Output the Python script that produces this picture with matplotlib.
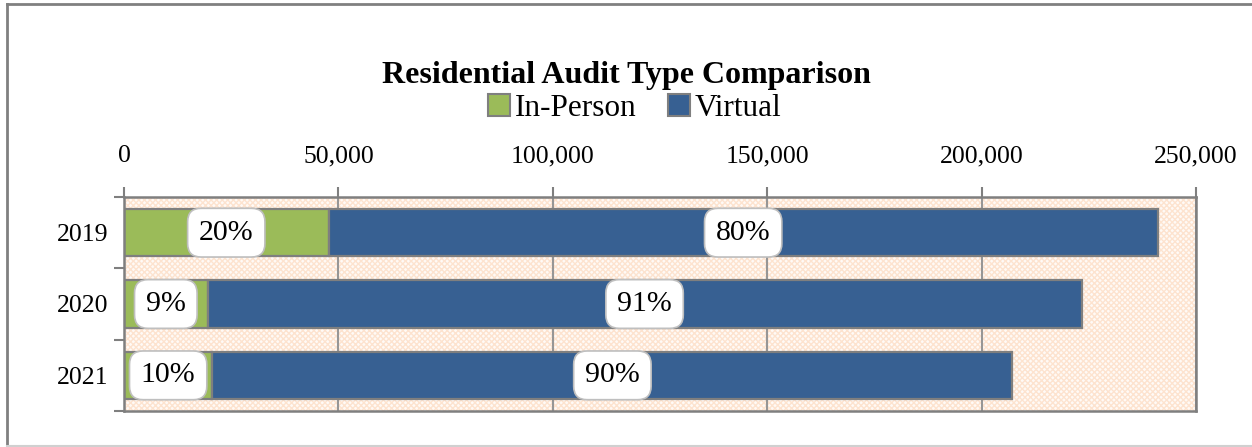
import matplotlib
matplotlib.use("Agg")
import matplotlib.pyplot as plt
from matplotlib.lines import Line2D
from matplotlib.patches import Rectangle
from matplotlib.ticker import FuncFormatter, FixedLocator
import numpy as np

years = ["2019", "2020", "2021"]
in_person = [47700, 19500, 20600]
virtual = [193400, 203800, 186600]
series_names = ["In-Person", "Virtual"]
x_ticks = [0, 50000, 100000, 150000, 200000, 250000]

GREEN = "#9bbb59"
BLUE = "#376092"
EDGE = "#7f7f7f"
GRID = "#969696"
SERIF = ["Liberation Serif", "DejaVu Serif"]

plt.rcParams["font.family"] = SERIF
plt.rcParams["hatch.linewidth"] = 1.0

fig = plt.figure(figsize=(12.52, 4.47), dpi=100)
ax = fig.add_axes([124 / 1252, 36 / 447, 1072 / 1252, 214 / 447])

ypos = np.arange(len(years))
ip = np.array(in_person, dtype=float)
vt = np.array(virtual, dtype=float)
tot = ip + vt

# patterned plot-area background
bg = Rectangle((0, 0), 1, 1, transform=ax.transAxes, facecolor="#fffaf6",
               edgecolor="#fde3cf", hatch="xxxxxx", linewidth=0, zorder=0)
ax.add_patch(bg)

bh = 0.66
ax.barh(ypos, ip, height=bh, color=GREEN, edgecolor=EDGE, linewidth=1.6,
        label=series_names[0], zorder=3)
ax.barh(ypos, vt, left=ip, height=bh, color=BLUE, edgecolor=EDGE, linewidth=1.6,
        label=series_names[1], zorder=3)

box = dict(boxstyle="round,pad=0.38,rounding_size=0.45", facecolor="white",
           edgecolor="#bfbfbf", linewidth=1.2)
for i in range(len(years)):
    p1 = round(ip[i] / tot[i] * 100)
    p2 = round(vt[i] / tot[i] * 100)
    ax.text(ip[i] / 2, ypos[i], f"{p1}%", ha="center", va="center",
            fontsize=21.5, bbox=box, zorder=5)
    ax.text(ip[i] + vt[i] / 2, ypos[i], f"{p2}%", ha="center", va="center",
            fontsize=21.5, bbox=box, zorder=5)

ax.set_xlim(0, 250000)
ax.set_ylim(len(years) - 0.5, -0.5)
ax.xaxis.tick_top()
ax.xaxis.set_major_locator(FixedLocator(x_ticks))
ax.xaxis.set_major_formatter(FuncFormatter(lambda v, p: f"{int(v):,}"))
ax.tick_params(axis="x", which="major", length=7, width=1.5, color=EDGE,
               labelsize=18.5, pad=14.5, direction="out")
ax.grid(axis="x", color=GRID, linewidth=1.5, zorder=1)
ax.set_axisbelow(True)

ax.set_yticks(ypos)
ax.set_yticklabels(years)
ax.tick_params(axis="y", which="major", length=0, labelsize=18.5, pad=11)
ax.set_yticks(np.arange(-0.5, len(years) + 0.5, 1.0), minor=True)
ax.tick_params(axis="y", which="minor", length=7, width=1.5, color=EDGE,
               direction="out")

for s in ax.spines.values():
    s.set_color(EDGE)
    s.set_linewidth(1.8)
    s.set_zorder(4)

fig.text(0.5, 1 - 76 / 447, "Residential Audit Type Comparison", ha="center",
         va="center", fontsize=23, fontweight="bold")

handles = [Rectangle((0, 0), 1, 1, facecolor=GREEN, edgecolor=EDGE, linewidth=1.5),
           Rectangle((0, 0), 1, 1, facecolor=BLUE, edgecolor=EDGE, linewidth=1.5)]
fig.legend(handles, series_names, loc="center", bbox_to_anchor=(0.507, 1 - 108 / 447),
           ncol=2, frameon=False, fontsize=22.5, handlelength=0.7, handleheight=0.7,
           handletextpad=0.15, columnspacing=1.0, borderpad=0.2)

# chart frame lines
fig.add_artist(Line2D([7 / 1252, 7 / 1252], [1 - 4 / 447, 1 - 446 / 447],
                      transform=fig.transFigure, color="#808080", linewidth=2))
fig.add_artist(Line2D([7 / 1252, 1], [1 - 4 / 447, 1 - 4 / 447],
                      transform=fig.transFigure, color="#808080", linewidth=2))
fig.add_artist(Line2D([7 / 1252, 1], [1 - 446 / 447, 1 - 446 / 447],
                      transform=fig.transFigure, color="#d0d0d0", linewidth=1.5))

fig.savefig("out.png", dpi=100)
